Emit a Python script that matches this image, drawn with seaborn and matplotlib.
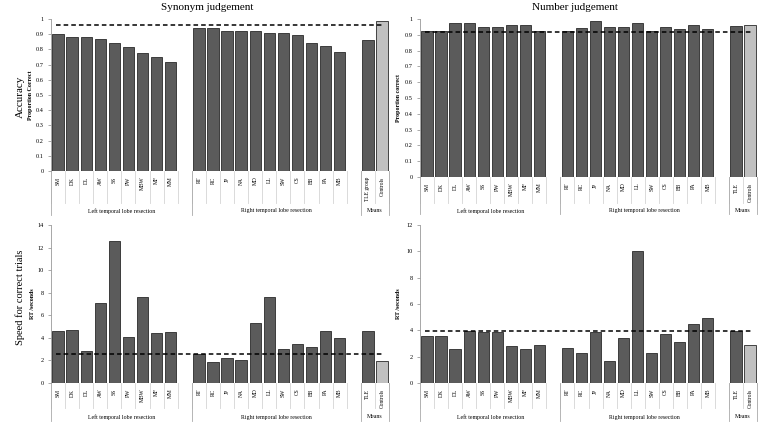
import numpy as np
import pandas as pd
import matplotlib
matplotlib.use("Agg")
import matplotlib.pyplot as plt
import matplotlib.transforms as mtransforms
import seaborn as sns

# Patients and group labels
left_ids = ["SM", "DK", "DL", "AW", "SS", "PW", "MBW", "MF", "MM"]
right_ids = ["RT", "RC", "JP", "NA", "MD", "LL", "SW", "CS", "BB", "PA", "MB"]
group_names = ["Left temporal lobe resection", "Right temporal lobe resection", "Means"]

# Synonym judgement: accuracy
syn_acc_left = [0.90, 0.88, 0.88, 0.87, 0.845, 0.815, 0.775, 0.75, 0.72]
syn_acc_right = [0.94, 0.94, 0.92, 0.92, 0.92, 0.905, 0.905, 0.895, 0.845, 0.825, 0.785]
syn_acc_means = [0.865, 0.985]
syn_acc_ref = 0.96

# Number judgement: accuracy
num_acc_left = [0.925, 0.925, 0.975, 0.975, 0.95, 0.95, 0.965, 0.965, 0.925]
num_acc_right = [0.925, 0.94, 0.99, 0.95, 0.95, 0.975, 0.925, 0.95, 0.935, 0.965, 0.935]
num_acc_means = [0.955, 0.965]
num_acc_ref = 0.92

# Synonym judgement: RT (s)
syn_rt_left = [4.6, 4.7, 2.85, 7.05, 12.6, 4.05, 7.6, 4.4, 4.5]
syn_rt_right = [2.6, 1.9, 2.25, 2.05, 5.35, 7.6, 3.0, 3.45, 3.15, 4.6, 4.0]
syn_rt_means = [4.6, 1.95]
syn_rt_ref = 2.57

# Number judgement: RT (s)
num_rt_left = [3.6, 3.55, 2.55, 3.95, 3.85, 3.85, 2.8, 2.6, 2.9]
num_rt_right = [2.65, 2.25, 3.85, 1.7, 3.4, 10.05, 2.3, 3.7, 3.15, 4.45, 4.95]
num_rt_means = [3.95, 2.85]
num_rt_ref = 3.94

W, H = 777, 426
FONT = "Liberation Serif"
plt.rcParams["font.family"] = [FONT, "DejaVu Serif"]

fig = plt.figure(figsize=(W / 100, H / 100), dpi=100)


def px_axes(left, top, right, bottom):
    return fig.add_axes([left / W, 1 - bottom / H, (right - left) / W, (bottom - top) / H])


def panel(box, left_vals, right_vals, mean_vals, mean_labels, ref, ymax, ystep,
          yfmt, ylabel, ylabel_x, cell_bottom, group_bottom, group_y):
    ax = px_axes(*box)
    slots = left_ids + [""] + right_ids + [""] + mean_labels
    vals = left_vals + [np.nan] + right_vals + [np.nan] + mean_vals
    kind = ["TLE"] * (len(slots) - 1) + ["Control"]
    df = pd.DataFrame({"pos": np.arange(len(slots)), "value": vals, "kind": kind}).dropna()
    sns.barplot(data=df, x="pos", y="value", hue="kind", native_scale=True, dodge=False,
                palette={"TLE": "#5b5b5b", "Control": "#c0c0c0"}, width=0.8,
                edgecolor="#2a2a2a", linewidth=0.6, legend=False, ax=ax)
    ax.axhline(ref, xmin=0.015, xmax=0.985, color="black", ls=(0, (3, 2)), lw=1.1, zorder=5)

    ax.set_xlim(-0.5, len(slots) - 0.5)
    ax.set_ylim(0, ymax)
    ticks = np.arange(0, ymax + ystep / 2, ystep)
    ax.set_yticks(ticks)
    ax.set_yticklabels([yfmt(t) for t in ticks], fontsize=4.5)
    ax.set_xticks(np.arange(len(slots)))
    ax.set_xticklabels(slots, rotation=90, fontsize=4)
    ax.tick_params(axis="x", length=0, pad=4)
    ax.tick_params(axis="y", length=2, width=0.5, color="#888888", pad=3)
    for s in ["top", "right", "bottom"]:
        ax.spines[s].set_visible(False)
    ax.spines["left"].set_color("#999999")
    ax.spines["left"].set_linewidth(0.6)
    ax.axhline(0, color="#999999", lw=0.6, zorder=1)
    ax.set_xlabel("")
    ax.set_ylabel(ylabel, fontsize=4.3, fontweight="bold")
    ax.yaxis.set_label_coords((ylabel_x - box[0]) / (box[2] - box[0]), 0.5)

    trans = mtransforms.blended_transform_factory(ax.transData, fig.transFigure)
    y0 = 1 - box[3] / H
    # cell borders for each slot
    for b in np.arange(len(slots) + 1) - 0.5:
        ax.plot([b, b], [y0, 1 - cell_bottom / H], transform=trans, color="#d4d4d4",
                lw=0.6, clip_on=False)
    # group borders
    bounds = [-0.5, len(left_ids) + 0.5, len(left_ids) + len(right_ids) + 1.5, len(slots) - 0.5]
    for b in bounds:
        ax.plot([b, b], [y0, 1 - group_bottom / H], transform=trans, color="#aaaaaa",
                lw=0.6, clip_on=False)
    for i, name in enumerate(group_names):
        ax.text((bounds[i] + bounds[i + 1]) / 2, 1 - group_y / H, name, transform=trans,
                ha="center", va="center", fontsize=4.2)
    return ax


acc_fmt = lambda t: "0" if t == 0 else ("1" if t == 1 else f"{t:.1f}")
rt_fmt = lambda t: f"{int(t)}"

panel((51, 19, 389, 171), syn_acc_left, syn_acc_right, syn_acc_means, ["TLE group", "Controls"],
      syn_acc_ref, 1.0, 0.1, acc_fmt, "Proportion Correct", 33, 203, 215, 211)
panel((420, 19, 757, 177), num_acc_left, num_acc_right, num_acc_means, ["TLE", "Controls"],
      num_acc_ref, 1.0, 0.1, acc_fmt, "Proportion correct", 401, 203, 214, 211)
panel((51, 225, 389, 383), syn_rt_left, syn_rt_right, syn_rt_means, ["TLE", "Controls"],
      syn_rt_ref, 14, 2, rt_fmt, "RT /seconds", 35, 408, 421, 417)
panel((420, 225, 757, 383), num_rt_left, num_rt_right, num_rt_means, ["TLE", "Controls"],
      num_rt_ref, 12, 2, rt_fmt, "RT /seconds", 401, 408, 421, 417)

fig.text(207 / W, 1 - 7 / H, "Synonym judgement", ha="center", va="center", fontsize=8)
fig.text(575 / W, 1 - 7 / H, "Number judgement", ha="center", va="center", fontsize=8)
fig.text(20 / W, 1 - 97 / H, "Accuracy", rotation=90, ha="center", va="center", fontsize=8)
fig.text(20 / W, 1 - 297 / H, "Speed for correct trials", rotation=90, ha="center",
         va="center", fontsize=7.5)

fig.savefig("out.png", dpi=100)
